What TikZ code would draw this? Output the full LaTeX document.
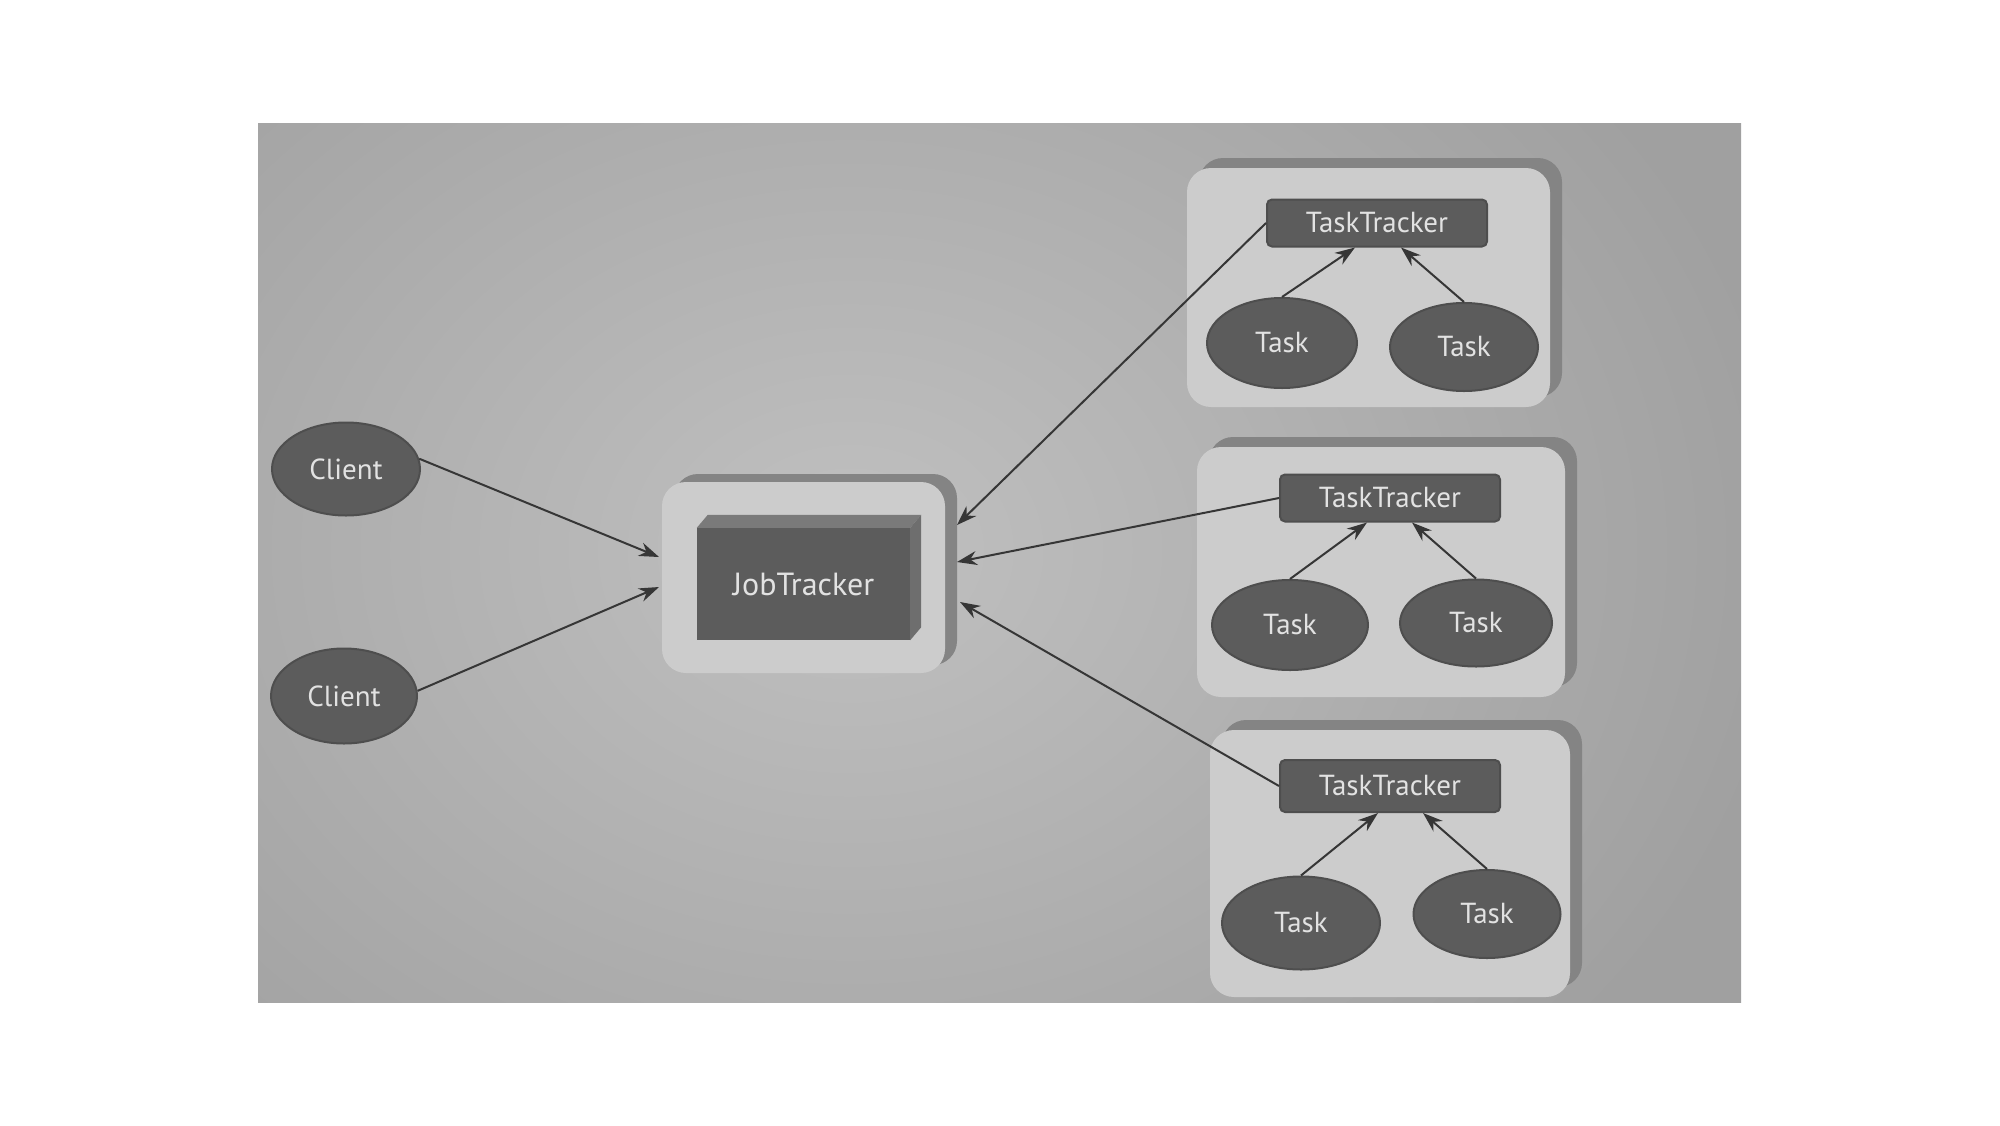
\documentclass[tikz,border=0pt]{standalone}
\usepackage{fontspec}
\setmainfont{PT Sans}
\usetikzlibrary{shapes.geometric,arrows.meta}
\definecolor{bgmid}{HTML}{C0C0C0}
\definecolor{bgout}{HTML}{A0A0A0}
\definecolor{boxlight}{HTML}{CCCCCC}
\definecolor{boxshadow}{HTML}{848484}
\definecolor{darknode}{HTML}{5C5C5C}
\definecolor{darkline}{HTML}{4E4E4E}
\definecolor{nodetext}{HTML}{E2E2E2}
\definecolor{arrowcol}{HTML}{363636}
\definecolor{topface}{HTML}{7A7A7A}
\definecolor{sideface}{HTML}{6E6E6E}
\tikzset{
  darkell/.style={ellipse, fill=darknode, draw=darkline, line width=2pt, text=nodetext, font=\fontsize{29}{30}\selectfont, inner sep=0pt},
  ttbox/.style={rectangle, rounded corners=5pt, fill=darknode, draw=darkline, line width=2pt, text=nodetext, font=\fontsize{29}{30}\selectfont, minimum width=220pt, minimum height=47pt, inner sep=0pt},
  groupbox/.style={rectangle, rounded corners=24pt, fill=boxlight, inner sep=0pt},
  groupshadow/.style={rectangle, rounded corners=24pt, fill=boxshadow, inner sep=0pt},
  conn/.style={draw=arrowcol, line width=2pt, -{Stealth[length=20pt,width=14pt]}},
}
\begin{document}
\begin{tikzpicture}[x=1pt,y=-1pt]
\useasboundingbox (0,0) rectangle (2000,1125);
\fill[white] (0,0) rectangle (2000,1125);
% photo background
\begin{scope}
\clip (258,123) rectangle (1741,1002);
\shade[inner color=bgmid, outer color=bgout] (-100,-200) rectangle (1800,1300);
\end{scope}

% group shadows and boxes
\node[groupshadow, minimum width=363pt, minimum height=239pt] at (1380.5,277.5) {};
\node[groupbox, minimum width=363pt, minimum height=239pt] (g1) at (1368.5,287.5) {};
\node[groupshadow, minimum width=368pt, minimum height=250pt] at (1393,562) {};
\node[groupbox, minimum width=368pt, minimum height=250pt] (g2) at (1381,572) {};
\node[groupshadow, minimum width=360pt, minimum height=267pt] at (1402,853.5) {};
\node[groupbox, minimum width=360pt, minimum height=267pt] (g3) at (1390,863.5) {};

% JobTracker container
\node[groupshadow, minimum width=283pt, minimum height=191pt] at (815.5,569.5) {};
\node[groupbox, minimum width=283pt, minimum height=191pt] (jtbox) at (803.5,577.5) {};
\node[rectangle, fill=darknode, minimum width=213pt, minimum height=112pt, inner sep=0pt, text=nodetext, font=\fontsize{32}{34}\selectfont] (jt) at (803.5,584) {JobTracker};
\fill[topface] (jt.north west) -- ++(11,-13) -- ([shift={(11,-13)}]jt.north east) -- (jt.north east) -- cycle;
\fill[sideface] (jt.north east) -- ++(11,-13) -- ([shift={(11,-13)}]jt.south east) -- (jt.south east) -- cycle;

% clients
\node[darkell, minimum width=148pt, minimum height=93pt] (client1) at (346,469) {Client};
\node[darkell, minimum width=146pt, minimum height=95pt] (client2) at (344,696) {Client};

% task trackers
\node[ttbox] (tt1) at (1377,223) {TaskTracker};
\node[ttbox] (tt2) at (1390,498) {TaskTracker};
\node[ttbox, minimum height=52pt] (tt3) at (1390,786) {TaskTracker};

% tasks
\node[darkell, minimum width=150pt, minimum height=90pt] (t11) at (1282,343) {Task};
\node[darkell, minimum width=148pt, minimum height=88pt] (t12) at (1464,347) {Task};
\node[darkell, minimum width=156pt, minimum height=90pt] (t21) at (1290,625) {Task};
\node[darkell, minimum width=152pt, minimum height=87pt] (t22) at (1476,623) {Task};
\node[darkell, minimum width=158pt, minimum height=93pt] (t31) at (1301,923) {Task};
\node[darkell, minimum width=147pt, minimum height=88pt] (t32) at (1487,914) {Task};

% arrow tips at the JobTracker box
\coordinate (jin1) at (659,557);
\coordinate (jin2) at (659,587);
\coordinate (jin3) at (957,525);
\coordinate (jin4) at (957,562);
\coordinate (jin5) at (960,602);

% connectors
\draw[conn] (client1.8) -- (jin1);
\draw[conn] (client2.4) -- (jin2);
\draw[conn] (tt1.west) -- (jin3);
\draw[conn] (tt2.west) -- (jin4);
\draw[conn] (tt3.west) -- (jin5);

\draw[conn] (t11.north) -- ([xshift=-22pt]tt1.south);
\draw[conn] (t12.north) -- ([xshift=24pt]tt1.south);
\draw[conn] (t21.north) -- ([xshift=-23pt]tt2.south);
\draw[conn] (t22.north) -- ([xshift=22pt]tt2.south);
\draw[conn] (t31.north) -- ([xshift=-12pt]tt3.south);
\draw[conn] (t32.north) -- ([xshift=33pt]tt3.south);
\end{tikzpicture}
\end{document}
